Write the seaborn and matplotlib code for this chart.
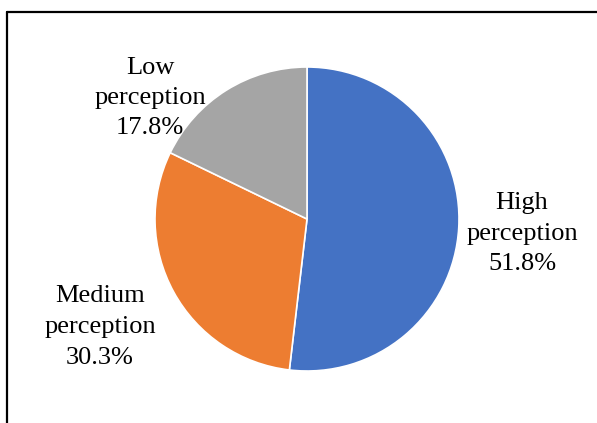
import matplotlib
matplotlib.use("Agg")
import matplotlib.pyplot as plt
import seaborn as sns

categories = ["High\nperception", "Medium\nperception", "Low\nperception"]
shares = [51.8, 30.3, 17.8]
colors = ["#4472C4", "#ED7D31", "#A5A5A5"]

sns.set_theme(style="white")
plt.rcParams["font.family"] = ["Liberation Serif", "DejaVu Serif"]

W, H = 597, 423
fig = plt.figure(figsize=(W / 100, H / 100), dpi=100)
ax = fig.add_axes([0, 0, 1, 1])
ax.set_xlim(0, W)
ax.set_ylim(H, 0)
ax.set_aspect("equal")
ax.axis("off")

# y axis runs downward, so angles are mirrored: start at -90 and sweep
# counter-clockwise in data space to go clockwise from 12 o'clock on screen
wedges, _ = ax.pie(
    shares,
    colors=colors,
    startangle=-90,
    counterclock=True,
    center=(307, 219),
    radius=152,
    wedgeprops=dict(edgecolor="white", linewidth=1.2),
)
ax.set_xlim(0, W)
ax.set_ylim(H, 0)

label_pos = [(522, 234), (100, 327), (150, 98)]
for (x, y), cat, v in zip(label_pos, categories, shares):
    ax.text(x, y, f"{cat}\n{v:.1f}%", ha="center", va="center",
            fontsize=19, color="black", linespacing=1.5)

# chart frame: top and left edges
fig.add_artist(plt.Line2D([7 / W, 1], [1 - 12.5 / H, 1 - 12.5 / H],
                          transform=fig.transFigure, color="black", lw=1.6))
fig.add_artist(plt.Line2D([7 / W, 7 / W], [0, 1 - 12.5 / H],
                          transform=fig.transFigure, color="black", lw=1.6))

fig.savefig("out.png", dpi=100)
